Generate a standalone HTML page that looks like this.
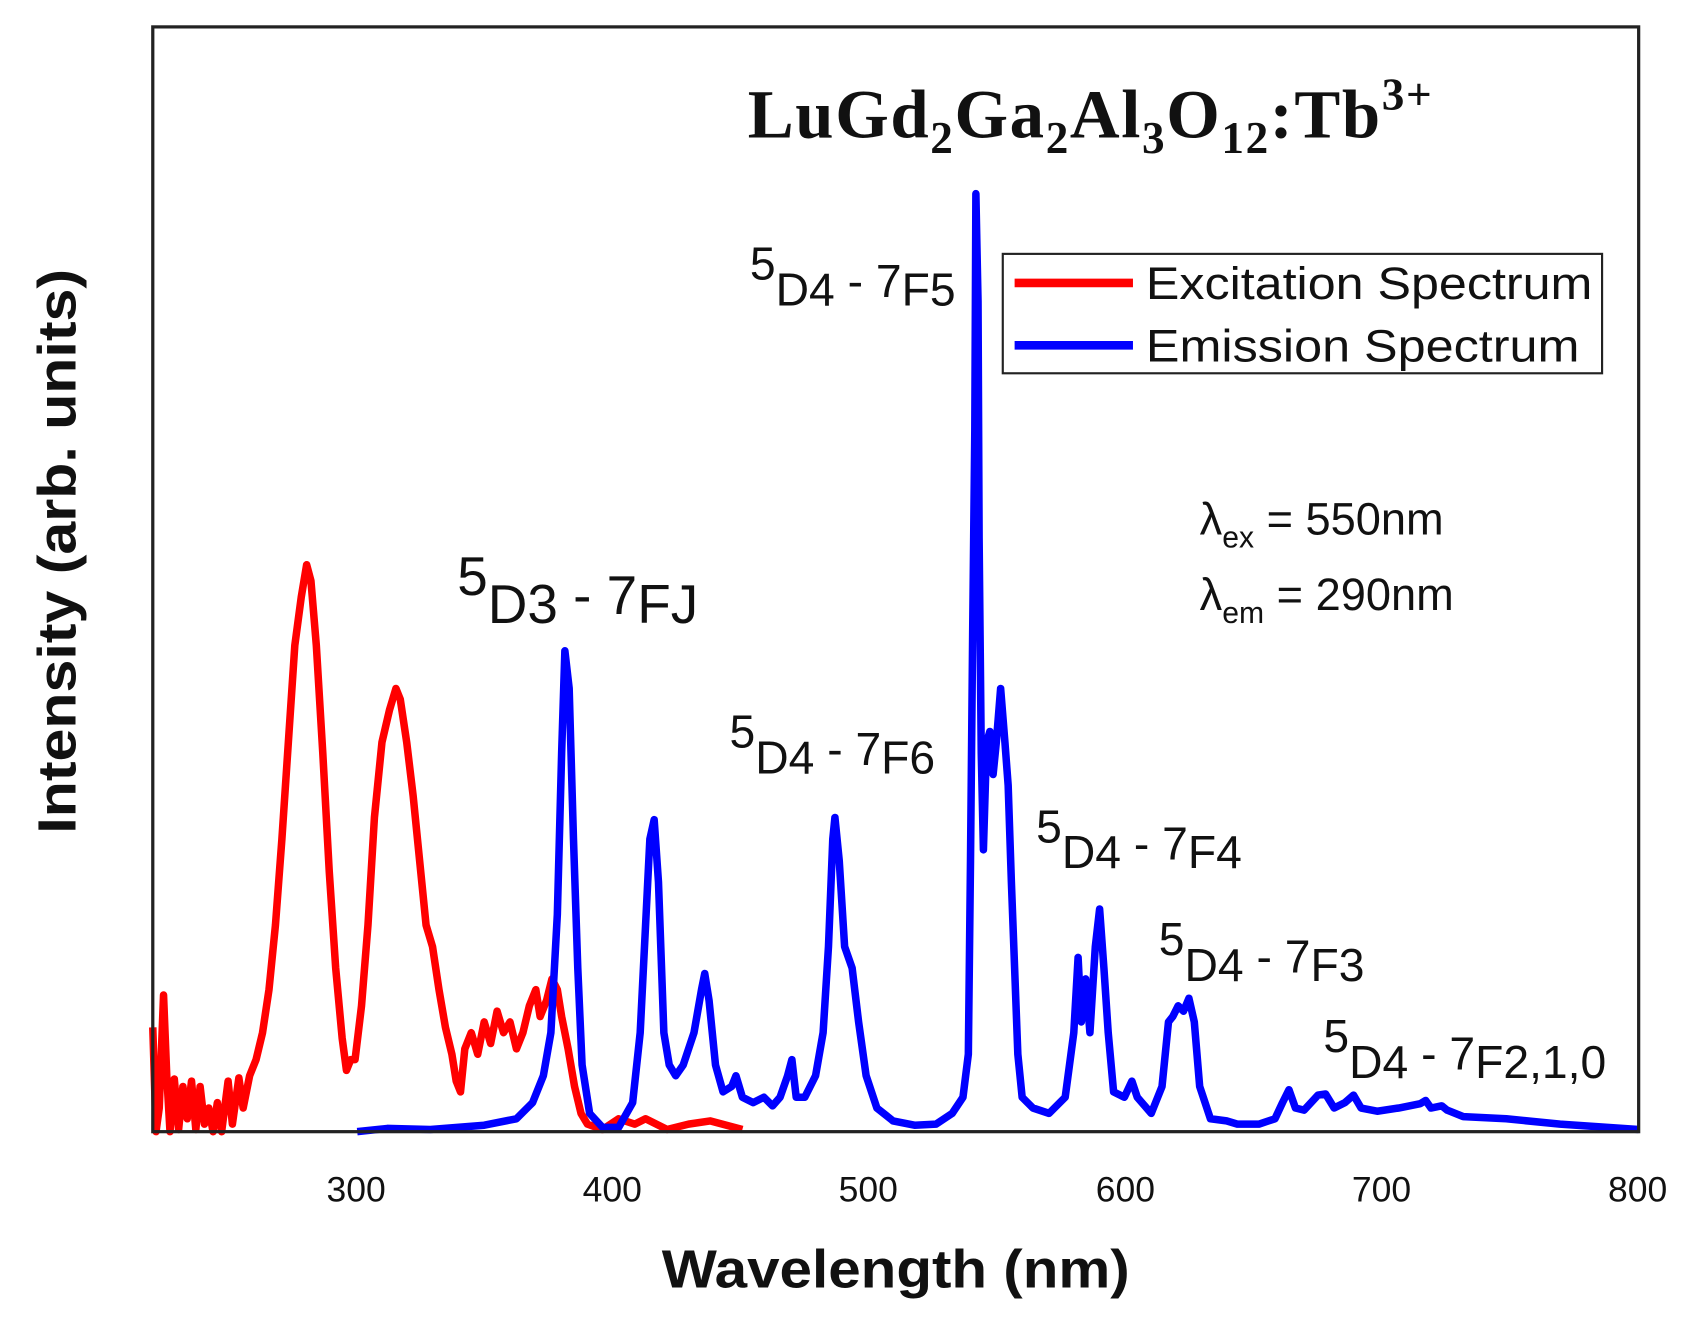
<!DOCTYPE html>
<html><head><meta charset="utf-8"><style>
html,body{margin:0;padding:0;background:#fff;}
svg{display:block;}
text{font-family:"Liberation Sans",Arial,sans-serif;fill:#111;}
</style></head><body>
<svg width="1686" height="1321" viewBox="0 0 1567 1228" preserveAspectRatio="none">
<rect x="0" y="0" width="1567" height="1228" fill="#fff"/>
<!-- red -->
<polyline fill="none" stroke="#f00" stroke-width="7" stroke-linejoin="round" points="142,955 145,1052 148,1030 152,925 155,1000 158,1052 162,1003 166,1050 170,1010 174,1040 178,1005 182,1050 186,1010 190,1045 194,1030 198,1052 202,1025 206,1052 212,1005 216,1045 222,1002 226,1030 232,1000 238,985 244,960 250,920 256,860 262,780 268,690 274,600 280,555 285,525 289,540 294,600 300,700 306,810 312,900 318,965 322,995 326,985 330,985 336,935 342,860 348,760 355,690 362,660 368,640 372,650 378,690 384,740 390,800 396,860 402,880 408,920 414,955 420,980 424,1005 428,1015 432,975 438,960 444,980 450,950 456,970 462,940 468,960 474,950 480,975 486,960 492,935 498,920 502,945 508,930 513,910 518,920 522,945 528,975 534,1010 540,1035 546,1045 560,1050 575,1040 590,1045 600,1040 620,1050 640,1045 660,1042 690,1050"/>
<!-- blue -->
<polyline fill="none" stroke="#00f" stroke-width="7" stroke-linejoin="round" points="332,1052 360,1049 400,1050 450,1046 480,1040 495,1025 505,1000 512,960 518,850 522,700 525,605 529,640 533,780 537,900 541,990 548,1035 560,1048 575,1048 588,1025 595,960 600,860 604,780 608,762 612,820 617,960 622,990 628,1000 635,990 645,960 652,920 655,905 659,930 665,990 672,1015 680,1010 684,1000 690,1020 700,1025 710,1020 718,1028 725,1020 732,1000 736,985 740,1020 748,1020 758,1000 765,960 770,880 774,780 776,760 780,800 785,880 792,900 798,950 805,1000 815,1030 830,1042 850,1046 870,1045 885,1035 895,1020 900,980 902,800 904,590 906,400 907,180 909,280 910,500 912,700 914,790 917,690 920,680 923,720 926,690 930,640 934,690 937,730 940,820 943,900 946,980 950,1020 960,1030 975,1035 990,1020 998,960 1002,890 1005,950 1009,910 1013,960 1018,880 1022,845 1026,900 1030,960 1035,1015 1045,1020 1052,1005 1057,1020 1070,1035 1080,1010 1086,950 1090,945 1095,935 1100,940 1105,928 1110,950 1115,1010 1125,1040 1140,1042 1150,1045 1170,1045 1185,1040 1192,1025 1198,1013 1204,1030 1212,1032 1225,1018 1232,1017 1240,1030 1250,1025 1258,1018 1265,1030 1280,1033 1300,1030 1320,1026 1325,1023 1330,1030 1340,1028 1345,1032 1360,1038 1400,1040 1450,1045 1523,1050"/>
<!-- frame -->
<rect x="142" y="25" width="1381" height="1027" fill="none" stroke="#222" stroke-width="3"/>
<!-- ticks labels -->
<g font-size="33" text-anchor="middle">
<text x="331" y="1117">300</text><text x="569" y="1117">400</text><text x="807" y="1117">500</text>
<text x="1046" y="1117">600</text><text x="1284" y="1117">700</text><text x="1522" y="1117">800</text>
</g>
<text x="615" y="1197" font-size="50" font-weight="bold" textLength="435" lengthAdjust="spacingAndGlyphs">Wavelength (nm)</text>
<text transform="translate(70,775) rotate(-90)" font-size="50" font-weight="bold" textLength="525" lengthAdjust="spacingAndGlyphs">Intensity (arb. units)</text>
<!-- title -->
<text x="695" y="128" font-size="64" font-weight="bold" letter-spacing="1.5" style="font-family:'Liberation Serif',serif">LuGd<tspan font-size="42" dy="14">2</tspan><tspan dy="-14">Ga</tspan><tspan font-size="42" dy="14">2</tspan><tspan dy="-14">Al</tspan><tspan font-size="42" dy="14">3</tspan><tspan dy="-14">O</tspan><tspan font-size="42" dy="14">12</tspan><tspan dy="-14">:Tb</tspan><tspan font-size="42" dy="-26">3+</tspan></text>
<!-- legend -->
<rect x="932" y="236" width="557" height="111" fill="#fff" stroke="#222" stroke-width="2"/>
<line x1="943" y1="263" x2="1053" y2="263" stroke="#f00" stroke-width="8"/>
<line x1="943" y1="321" x2="1053" y2="321" stroke="#00f" stroke-width="8"/>
<text x="1065" y="278" font-size="42" textLength="415" lengthAdjust="spacingAndGlyphs">Excitation Spectrum</text>
<text x="1065" y="336" font-size="42" textLength="403" lengthAdjust="spacingAndGlyphs">Emission Spectrum</text>
<!-- annotations -->
<g font-size="43">
<text x="697" y="260">5<tspan dy="24">D4</tspan><tspan dy="-8"> - 7</tspan><tspan dy="8">F5</tspan></text>
<text x="678" y="695">5<tspan dy="24">D4</tspan><tspan dy="-8"> - 7</tspan><tspan dy="8">F6</tspan></text>
<text x="963" y="783">5<tspan dy="24">D4</tspan><tspan dy="-8"> - 7</tspan><tspan dy="8">F4</tspan></text>
<text x="1077" y="888">5<tspan dy="24">D4</tspan><tspan dy="-8"> - 7</tspan><tspan dy="8">F3</tspan></text>
<text x="1230" y="978">5<tspan dy="24">D4</tspan><tspan dy="-8"> - 7</tspan><tspan dy="8">F2,1,0</tspan></text>
</g>
<text x="425" y="553" font-size="51">5<tspan dy="26">D3</tspan><tspan dy="-8"> - 7</tspan><tspan dy="8">FJ</tspan></text>
<g font-size="42">
<text x="1115" y="497">λ<tspan font-size="28" dy="12">ex</tspan><tspan dy="-12"> = 550nm</tspan></text>
<text x="1115" y="567">λ<tspan font-size="28" dy="12">em</tspan><tspan dy="-12"> = 290nm</tspan></text>
</g>
</svg>
</body></html>
